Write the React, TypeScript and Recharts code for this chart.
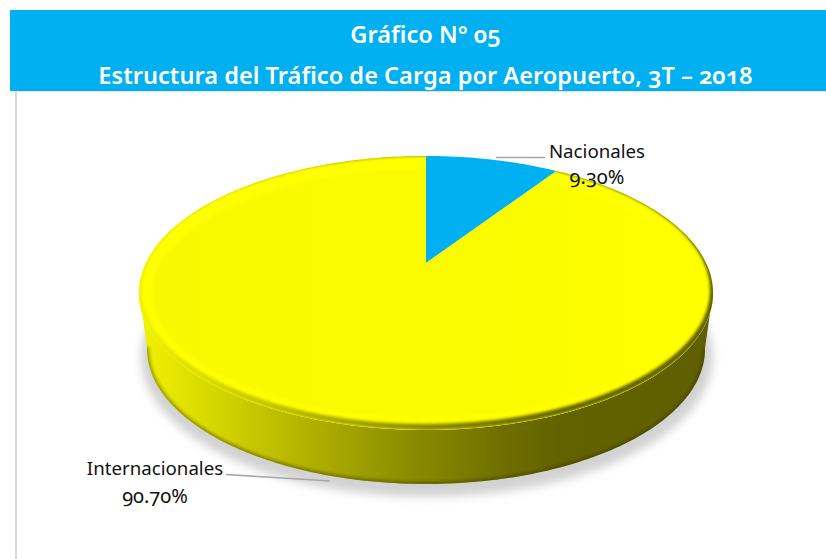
import React from "react";
import { PieChart, Pie } from "recharts";

const categories = ["Nacionales", "Internacionales"];
const shares = [9.3, 90.7];
const titleLines = ["Gráfico N° 05", "Estructura del Tráfico de Carga por Aeropuerto, 3T – 2018"];

const pieData = categories.map((name, i) => ({ name, value: shares[i] }));
const sliceColors = ["#00B0F0", "url(#topFill)"];

const W = 826;
const H = 559;
const CX = 426;
const CY = 293;
const RX = 287;
const RY = 137;
const TILT = 0.219;
const BOTTOM = { rx: 279, ry: 135, cy: 349 };

const labelLayout = [
  { x: 597, y1: 158, y2: 184, line: "M496 157.5 L545 157.5" },
  { x: 155, y1: 475, y2: 503, line: "M226 474.5 L330 481" },
];

function project(deg: number) {
  const a = (deg * Math.PI) / 180;
  const x = Math.cos(a);
  const y = Math.sin(a);
  const d = 1 + TILT * y;
  return { X: (x * Math.sqrt(1 - TILT * TILT)) / d, Y: (y + TILT) / d };
}

function sampleAngles(start: number, end: number) {
  const out: number[] = [];
  const n = Math.max(2, Math.ceil(Math.abs(end - start)));
  for (let i = 0; i <= n; i++) out.push(start + ((end - start) * i) / n);
  return out;
}

function SliceShape(props: any) {
  const { startAngle, endAngle, cx, cy, outerRadius, fill, index } = props;
  const sy = RY / RX;
  const ry = outerRadius * sy;
  const angles = sampleAngles(startAngle, endAngle);
  const pts = angles.map(project);
  const rim = pts.map((p) => `${(cx + outerRadius * p.X).toFixed(2)} ${(cy - ry * p.Y).toFixed(2)}`);
  const sector = `M${cx} ${cy - ry * TILT} L${rim.join(" L")} Z`;
  const front = pts.filter((p) => p.Y <= 0.02);
  const clipId = `slice-clip-${index}`;
  const sideClipId = `side-clip-${index}`;
  let side = "";
  let lowerArc = "";
  if (front.length > 1) {
    const upper = front.map((p) => `${cx + outerRadius * p.X} ${cy - ry * p.Y}`);
    const lower = front
      .slice()
      .reverse()
      .map((p) => `${cx + BOTTOM.rx * p.X} ${BOTTOM.cy - BOTTOM.ry * p.Y}`);
    side = `M${upper.join(" L")} L${lower.join(" L")} Z`;
    lowerArc = `M${lower.join(" L")}`;
  }
  return (
    <g>
      {side && (
        <g>
          <clipPath id="shadow-clip">
            <rect x={0} y={cy} width={W} height={H - cy} />
          </clipPath>
          <g clipPath="url(#shadow-clip)">
            <ellipse cx={cx + 1} cy={BOTTOM.cy + 8} rx={BOTTOM.rx + 7} ry={BOTTOM.ry + 5} fill="#d2d2d2" filter="url(#softShadow)" />
          </g>
          <clipPath id={sideClipId}>
            <path d={side} />
          </clipPath>
          <path d={side} fill="url(#sideFill)" />
          <g clipPath={`url(#${sideClipId})`}>
            <path d={lowerArc} fill="none" stroke="#303000" strokeOpacity={0.4} strokeWidth={5} filter="url(#edgeBlur)" />
          </g>
        </g>
      )}
      <clipPath id={clipId}>
        <path d={sector} />
      </clipPath>
      <path d={sector} fill={fill} stroke="none" />
      {front.length > 1 && (
        <g clipPath={`url(#${clipId})`}>
          <ellipse cx={cx} cy={cy} rx={outerRadius - 6} ry={ry - 6} fill="none" stroke="#ffff00" strokeWidth={14} filter="url(#rimBlur)" />
          <ellipse cx={cx} cy={cy - 3} rx={outerRadius} ry={ry} fill="none" stroke="url(#sideFill)" strokeWidth={6} filter="url(#edgeBlur)" />
        </g>
      )}
    </g>
  );
}

function SliceLabel(props: any) {
  const { index, name, value } = props;
  const l = labelLayout[index];
  const font = { fontFamily: "'Noto Sans', sans-serif", fontSize: 18.7, fill: "#111", fontFeatureSettings: "'onum'" } as const;
  return (
    <g>
      <path d={l.line} stroke="#a6a6a6" strokeWidth={1.5} fill="none" />
      <text x={l.x} y={l.y1} textAnchor="middle" style={font}>{name}</text>
      <text x={l.x} y={l.y2} textAnchor="middle" style={{ ...font, fontSize: 20 }}>{`${Number(value).toFixed(2)}%`}</text>
    </g>
  );
}

export default function App() {
  return (
    <div style={{ position: "absolute", left: 0, top: 0, width: W, height: H, background: "#fff", overflow: "hidden" }}>
      <div style={{ position: "absolute", left: 15, top: 90, width: 2, height: H - 90, background: "#d9d9d9" }} />
      <div style={{ position: "absolute", left: 15, top: 90, width: W - 15, height: 2, background: "#e2e2e2" }} />
      <div
        style={{
          position: "absolute",
          left: 10,
          top: 10,
          width: W - 10,
          height: 81,
          background: "#00B0F0",
          color: "#fff",
          fontFamily: "'Noto Sans', sans-serif",
          fontWeight: 600,
          fontSize: 23.6,
          fontFeatureSettings: "'onum'",
          textAlign: "center",
          lineHeight: "41px",
          whiteSpace: "nowrap",
        }}
      >
        {titleLines.map((t) => (
          <div key={t} style={{ paddingLeft: 15, position: "relative", top: 4 }}>{t}</div>
        ))}
      </div>
      <div style={{ position: "absolute", left: 0, top: 0 }}>
        <PieChart width={W} height={H} margin={{ top: 0, right: 0, bottom: 0, left: 0 }}>
          <defs>
            <linearGradient id="sideFill" gradientUnits="userSpaceOnUse" x1={140} y1={0} x2={713} y2={0}>
              <stop offset="0" stopColor="#f2f200" />
              <stop offset="0.157" stopColor="#d0d000" />
              <stop offset="0.28" stopColor="#b4b400" />
              <stop offset="0.454" stopColor="#8f8f00" />
              <stop offset="0.628" stopColor="#707000" />
              <stop offset="0.733" stopColor="#626200" />
              <stop offset="1" stopColor="#5f5f00" />
            </linearGradient>
            <linearGradient id="topFill" gradientUnits="userSpaceOnUse" x1={140} y1={0} x2={713} y2={0}>
              <stop offset="0" stopColor="#f8f800" />
              <stop offset="0.6" stopColor="#fbfb00" />
              <stop offset="1" stopColor="#ffff00" />
            </linearGradient>
            <filter id="rimBlur" x="-5%" y="-10%" width="110%" height="120%">
              <feGaussianBlur stdDeviation="1.5" />
            </filter>
            <filter id="edgeBlur" x="-5%" y="-10%" width="110%" height="120%">
              <feGaussianBlur stdDeviation="1.5" />
            </filter>
            <filter id="softShadow" x="-10%" y="-20%" width="120%" height="140%">
              <feGaussianBlur stdDeviation="5" />
            </filter>
          </defs>
          <Pie
            data={pieData}
            dataKey="value"
            nameKey="name"
            cx={CX}
            cy={CY}
            innerRadius={0}
            outerRadius={RX}
            startAngle={90}
            endAngle={-270}
            stroke="none"
            isAnimationActive={false}
            shape={(p: any) => <SliceShape {...p} fill={sliceColors[p.index]} />}
            label={SliceLabel}
            labelLine={false}
          />
        </PieChart>
      </div>
    </div>
  );
}
